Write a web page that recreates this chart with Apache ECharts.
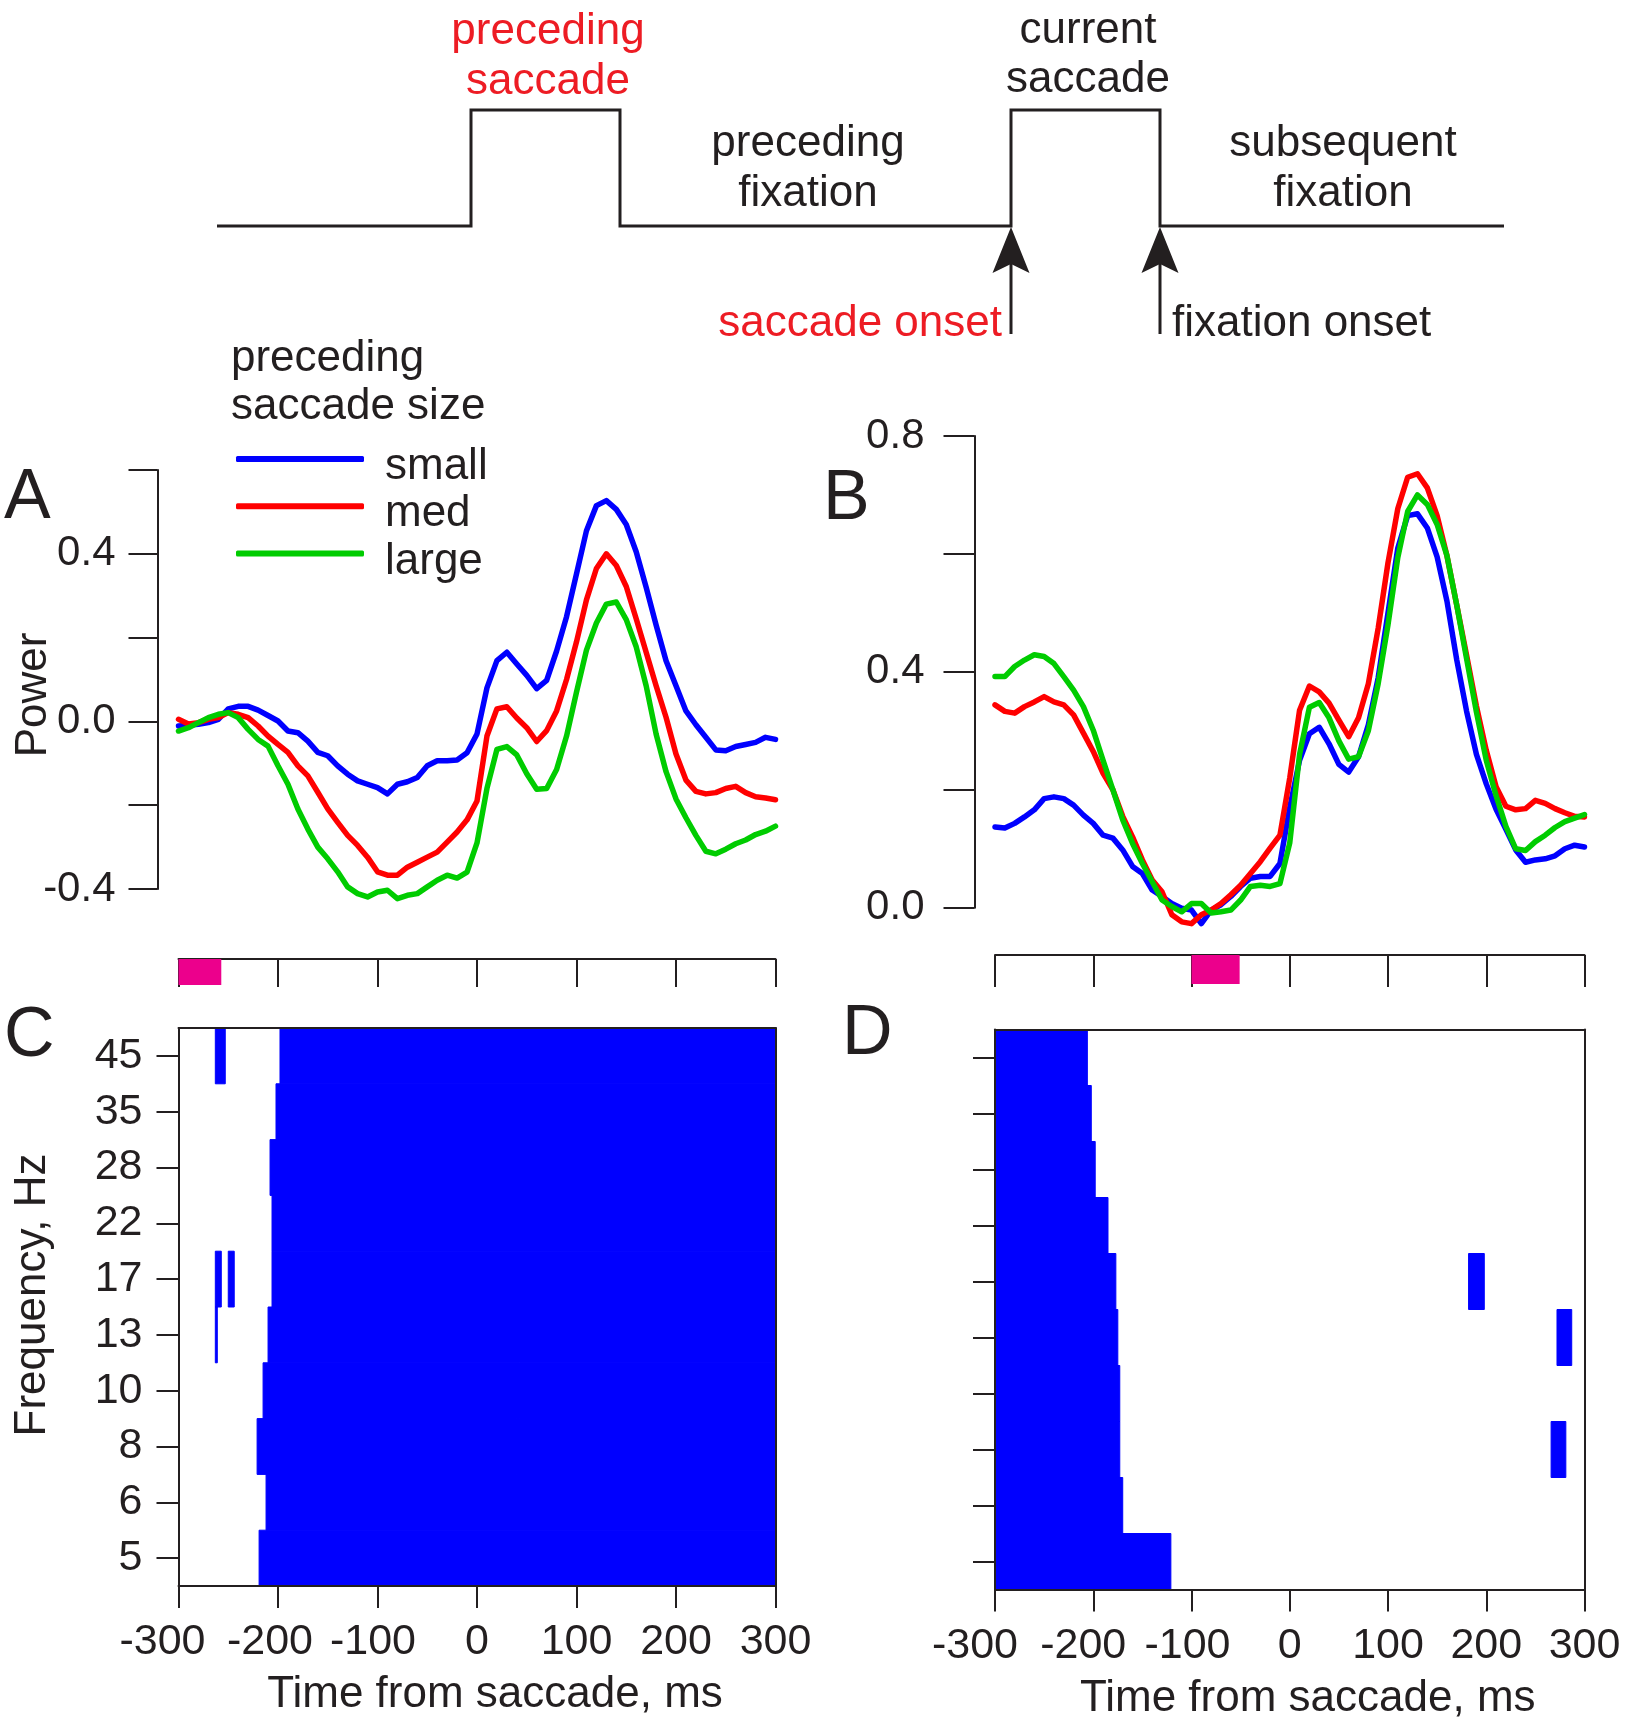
<!DOCTYPE html>
<html>
<head>
<meta charset="utf-8">
<title>Saccade-related power by preceding saccade size</title>
<script src="https://cdn.jsdelivr.net/npm/echarts@6/dist/echarts.min.js"></script>
<style>
  html, body { margin: 0; padding: 0; background: #fff; }
  #chart { width: 1632px; height: 1718px; }
</style>
</head>
<body>
<div id="chart"></div>
<script>
// time from saccade onset, ms (power traces are read every 10 ms)
var times = [-300,-290,-280,-270,-260,-250,-240,-230,-220,-210,
  -200,-190,-180,-170,-160,-150,-140,-130,-120,-110,
  -100,-90,-80,-70,-60,-50,-40,-30,-20,-10,
  0,10,20,30,40,50,60,70,80,90,
  100,110,120,130,140,150,160,170,180,190,
  200,210,220,230,240,250,260,270,280,290,
  300];

// panel A: power, split by preceding saccade size
var smallA = [-0.011,-0.009,-0.007,-0.003,0.005,0.030,0.036,0.036,0.027,0.014,
  0.001,-0.023,-0.027,-0.047,-0.074,-0.082,-0.106,-0.126,-0.142,-0.150,
  -0.158,-0.173,-0.150,-0.144,-0.134,-0.106,-0.094,-0.094,-0.092,-0.075,
  -0.030,0.080,0.145,0.165,0.137,0.110,0.078,0.098,0.168,0.250,
  0.352,0.455,0.515,0.527,0.506,0.470,0.405,0.320,0.230,0.145,
  0.085,0.025,-0.008,-0.038,-0.068,-0.070,-0.060,-0.055,-0.050,-0.038,
  -0.043];
var medA = [0.005,-0.006,-0.003,0.005,0.009,0.021,0.017,0.009,-0.011,-0.035,
  -0.055,-0.074,-0.106,-0.130,-0.169,-0.209,-0.241,-0.272,-0.296,-0.324,
  -0.359,-0.367,-0.367,-0.348,-0.336,-0.324,-0.312,-0.288,-0.264,-0.235,
  -0.190,-0.035,0.030,0.035,0.008,-0.015,-0.048,-0.022,0.025,0.100,
  0.190,0.290,0.365,0.400,0.372,0.322,0.245,0.165,0.085,0.010,
  -0.078,-0.140,-0.167,-0.173,-0.170,-0.160,-0.155,-0.170,-0.180,-0.183,
  -0.187];
var largeA = [-0.023,-0.015,-0.003,0.009,0.017,0.021,0.009,-0.019,-0.043,-0.059,
  -0.106,-0.150,-0.209,-0.257,-0.300,-0.328,-0.359,-0.395,-0.411,-0.419,
  -0.407,-0.403,-0.423,-0.415,-0.411,-0.395,-0.379,-0.367,-0.374,-0.360,
  -0.290,-0.160,-0.067,-0.060,-0.080,-0.125,-0.162,-0.160,-0.115,-0.035,
  0.070,0.170,0.235,0.280,0.285,0.243,0.178,0.085,-0.030,-0.120,
  -0.185,-0.230,-0.272,-0.310,-0.316,-0.305,-0.292,-0.283,-0.270,-0.262,
  -0.250];

// panel B
var smallB = [0.137,0.135,0.143,0.154,0.166,0.185,0.188,0.185,0.174,0.157,
  0.143,0.123,0.118,0.098,0.070,0.058,0.030,0.019,0.007,-0.001,
  -0.004,-0.027,-0.004,0.005,0.019,0.036,0.050,0.053,0.053,0.075,
  0.170,0.250,0.295,0.306,0.278,0.243,0.230,0.256,0.310,0.390,
  0.500,0.610,0.665,0.668,0.644,0.595,0.520,0.420,0.333,0.260,
  0.210,0.167,0.133,0.098,0.077,0.081,0.083,0.088,0.100,0.106,
  0.103];
var medB = [0.344,0.333,0.330,0.341,0.349,0.358,0.349,0.344,0.327,0.296,
  0.265,0.228,0.200,0.155,0.120,0.081,0.047,0.027,-0.012,-0.024,
  -0.027,-0.012,-0.004,0.007,0.022,0.038,0.058,0.078,0.101,0.123,
  0.220,0.335,0.376,0.366,0.347,0.318,0.290,0.322,0.380,0.474,
  0.585,0.677,0.730,0.736,0.712,0.665,0.597,0.513,0.428,0.342,
  0.267,0.205,0.172,0.166,0.168,0.182,0.177,0.168,0.161,0.155,
  0.154];
var largeB = [0.392,0.392,0.409,0.420,0.429,0.426,0.414,0.392,0.369,0.341,
  0.301,0.250,0.200,0.149,0.109,0.075,0.044,0.013,0.002,-0.007,
  0.007,0.007,-0.009,-0.007,-0.004,0.013,0.036,0.038,0.036,0.041,
  0.110,0.260,0.340,0.348,0.322,0.283,0.252,0.256,0.300,0.380,
  0.480,0.594,0.672,0.700,0.684,0.650,0.597,0.513,0.422,0.332,
  0.250,0.190,0.138,0.100,0.097,0.112,0.123,0.136,0.146,0.152,
  0.158];

// frequency bands, bottom to top
var freqBands = ['5','6','8','10','13','17','22','28','35','45'];
// panel C: significant from this time to the end of the window
var sigStartC = [-219,-212,-221,-215,-210,-206,-206,-208,-202,-198];
// extra short significant bits in C: [from, to, band]
var sigExtraC = [[-263,-253,'45'],[-263,-257,'17'],[-250,-244,'17'],[-263,-261,'13']];
// panel D: significant from the window start to this time
var sigEndD = [-121,-170,-173,-173,-175,-177,-185,-198,-202,-206];
var sigExtraD = [[182,198,'17'],[272,287,'13'],[266,281,'8']];

// comparison windows marked on the small time strips
var windowC = [-300,-257];
var windowD = [-100,-51];

// schematic of the eye trace (arbitrary time units)
var traceX = [0,254,254,403,403,794,794,943,943,1287];
var traceY = [0,0,1,1,0,0,1,1,0,0];
var arrowAt = [794,943];

var ink = '#231f20';
var redInk = '#ed1c24';
var font = '"Liberation Sans", Arial, Helvetica, sans-serif';
var lineColors = { small: '#0000ff', med: '#ff0000', large: '#00cc00' };

var chart = echarts.init(document.getElementById('chart'));

function trace(name, vals, axis) {
  return {
    name: name, type: 'line', xAxisIndex: axis, yAxisIndex: axis,
    data: times.map(function (t, i) { return [t, vals[i]]; }),
    symbol: 'none', clip: false, silent: true,
    itemStyle: { color: lineColors[name] },
    lineStyle: { color: lineColors[name], width: 5.5, cap: 'round', join: 'round' }
  };
}

function spanItem(params, api) {
  var row = api.value(2);
  var a = api.coord([api.value(0), row]);
  var b = api.coord([api.value(1), row]);
  var h = api.size([0, 1])[1];
  return { type: 'rect', shape: { x: a[0], y: a[1] - h / 2, width: b[0] - a[0], height: h },
    style: { fill: '#0000ff', stroke: '#0000ff', lineWidth: 1 } };
}

function windowItem(h) {
  return function (params, api) {
    var a = api.coord([api.value(0), 1]);
    var b = api.coord([api.value(1), 1]);
    return { type: 'rect', shape: { x: a[0], y: a[1], width: b[0] - a[0], height: h },
      style: { fill: '#ec008c' } };
  };
}

function arrowItem(params, api) {
  var p = api.coord([api.value(0), 0]);
  return { type: 'group', children: [
    { type: 'line', shape: { x1: p[0], y1: p[1] + 30, x2: p[0], y2: p[1] + 108 },
      style: { stroke: ink, lineWidth: 3 } },
    { type: 'polygon', shape: { points: [[p[0], p[1] + 1], [p[0] - 18.5, p[1] + 47], [p[0], p[1] + 38], [p[0] + 18.5, p[1] + 47]] },
      style: { fill: ink } }
  ] };
}

var noSplit = { show: false };
var axLine = { show: true, onZero: false, lineStyle: { color: ink, width: 2 } };

function timeAxis(grid, opts) {
  var base = { gridIndex: grid, type: 'value', min: -300, max: 300, interval: 100,
    splitLine: noSplit, axisLine: { show: false, onZero: false }, axisTick: { show: false },
    axisLabel: { show: false } };
  return Object.assign(base, opts || {});
}

function bottomTimeAxis(grid, shifts) {
  var rich = {
    m3: { fontSize: 43, fontFamily: font, color: ink, padding: [0, shifts[0], 0, 0] },
    m2: { fontSize: 43, fontFamily: font, color: ink, padding: [0, shifts[1], 0, 0] },
    m1: { fontSize: 43, fontFamily: font, color: ink, padding: [0, shifts[2], 0, 0] }
  };
  return timeAxis(grid, {
    position: 'bottom', z: 5,
    axisLine: axLine,
    axisTick: { show: true, length: 22, lineStyle: { color: ink, width: 2 } },
    axisLabel: { show: true, fontSize: 43, fontFamily: font, color: ink, margin: 35, rich: rich,
      formatter: function (v) {
        if (v === -300) return '{m3|-300}';
        if (v === -200) return '{m2|-200}';
        if (v === -100) return '{m1|-100}';
        return String(v);
      } },
    name: 'Time from saccade, ms', nameLocation: 'middle', nameGap: 87,
    nameTextStyle: { fontSize: 44, fontFamily: font, color: ink, padding: [0, 0, 0, 36] }
  });
}

function freqAxis(grid, withLabels, right) {
  return {
    gridIndex: grid, type: 'category', data: freqBands, position: right ? 'right' : 'left',
    z: 5, boundaryGap: true,
    axisLine: axLine,
    axisTick: { show: !right, interval: 0, alignWithLabel: true, length: 22,
      lineStyle: { color: ink, width: 2 } },
    axisLabel: { show: withLabels && !right, interval: 0, hideOverlap: false,
      fontSize: 43, fontFamily: font, color: ink, margin: 36 },
    splitLine: noSplit
  };
}

function powerLabel(v) {
  return Math.round(v * 10) % 4 === 0 ? v.toFixed(1) : '';
}

function txt(text, x, y, align, color, size, rot) {
  return {
    type: 'text', x: x, y: y, rotation: rot || 0, silent: true,
    style: { text: text, fill: color || ink, fontSize: size || 44, fontFamily: font,
      align: align, textAlign: align, verticalAlign: 'middle', textVerticalAlign: 'middle' }
  };
}

var option = {
  animation: false,
  backgroundColor: '#ffffff',
  grid: [
    { left: 217, top: 110, width: 1287, height: 116, outerBoundsMode: 'none' },
    { left: 178.5, top: 470, width: 597, height: 419, outerBoundsMode: 'none' },
    { left: 995, top: 436, width: 589.5, height: 471.7, outerBoundsMode: 'none' },
    { left: 178.5, top: 959, width: 597, height: 28, outerBoundsMode: 'none' },
    { left: 995, top: 955, width: 589.5, height: 32, outerBoundsMode: 'none' },
    { left: 178.5, top: 1028, width: 597, height: 558, outerBoundsMode: 'none' },
    { left: 995, top: 1029.5, width: 589.5, height: 560, outerBoundsMode: 'none' }
  ],
  xAxis: [
    { gridIndex: 0, type: 'value', min: 0, max: 1287, show: false },
    timeAxis(1, { show: false }),
    timeAxis(2, { show: false }),
    timeAxis(3, { position: 'top', axisLine: axLine,
      axisTick: { show: true, inside: true, length: 28, lineStyle: { color: ink, width: 2 } } }),
    timeAxis(4, { position: 'top', axisLine: axLine,
      axisTick: { show: true, inside: true, length: 32, lineStyle: { color: ink, width: 2 } } }),
    bottomTimeAxis(5, [32, 16, 9]),
    timeAxis(5, { position: 'top', z: 5, axisLine: axLine }),
    bottomTimeAxis(6, [40, 20, 8]),
    timeAxis(6, { position: 'top', z: 5, axisLine: axLine })
  ],
  yAxis: [
    { gridIndex: 0, type: 'value', min: 0, max: 1, show: false },
    { gridIndex: 1, type: 'value', min: -0.4, max: 0.6, interval: 0.2, offset: 21,
      axisLine: axLine, splitLine: noSplit,
      axisTick: { show: true, length: 29, lineStyle: { color: ink, width: 2 } },
      axisLabel: { fontSize: 42, fontFamily: font, color: ink, margin: 42, formatter: powerLabel } },
    { gridIndex: 2, type: 'value', min: 0, max: 0.8, interval: 0.2, offset: 20.5,
      axisLine: axLine, splitLine: noSplit,
      axisTick: { show: true, length: 31, lineStyle: { color: ink, width: 2 } },
      axisLabel: { fontSize: 42, fontFamily: font, color: ink, margin: 50, padding: [6, 0, 0, 0],
        formatter: powerLabel } },
    { gridIndex: 3, type: 'value', min: 0, max: 1, show: false },
    { gridIndex: 4, type: 'value', min: 0, max: 1, show: false },
    freqAxis(5, true, false),
    freqAxis(5, false, true),
    freqAxis(6, false, false),
    freqAxis(6, false, true)
  ],
  legend: {
    orient: 'vertical', left: 236, top: 432, padding: 0,
    itemWidth: 128, itemHeight: 6, itemGap: -9.7, icon: 'roundRect',
    selectedMode: false,
    data: ['small', 'med', 'large'],
    formatter: function (name) { return '{s| }\n{t|' + name + '}'; },
    textStyle: {
      fontSize: 44, fontFamily: font, color: ink, padding: [0, 0, 0, 16],
      rich: {
        s: { fontSize: 10, lineHeight: 16 },
        t: { fontSize: 44, fontFamily: font, color: ink, lineHeight: 44 }
      }
    }
  },
  series: [
    { type: 'line', xAxisIndex: 0, yAxisIndex: 0, silent: true, symbol: 'none', clip: false,
      data: traceX.map(function (x, i) { return [x, traceY[i]]; }),
      lineStyle: { color: ink, width: 3, join: 'miter' } },
    { type: 'custom', xAxisIndex: 0, yAxisIndex: 0, clip: false, silent: true,
      renderItem: arrowItem, data: arrowAt.map(function (x) { return [x]; }) },

    trace('small', smallA, 1), trace('med', medA, 1), trace('large', largeA, 1),
    trace('small', smallB, 2), trace('med', medB, 2), trace('large', largeB, 2),

    { type: 'custom', xAxisIndex: 3, yAxisIndex: 3, silent: true,
      renderItem: windowItem(26), data: [windowC] },
    { type: 'custom', xAxisIndex: 4, yAxisIndex: 4, silent: true,
      renderItem: windowItem(29), data: [windowD] },

    { type: 'custom', xAxisIndex: 5, yAxisIndex: 5, silent: true, encode: { x: [0, 1], y: 2 },
      renderItem: spanItem,
      data: sigStartC.map(function (s, i) { return [s, 300, i]; })
        .concat(sigExtraC.map(function (e) { return [e[0], e[1], freqBands.indexOf(e[2])]; })) },
    { type: 'custom', xAxisIndex: 7, yAxisIndex: 7, silent: true, encode: { x: [0, 1], y: 2 },
      renderItem: spanItem,
      data: sigEndD.map(function (e, i) { return [-300, e, i]; })
        .concat(sigExtraD.map(function (e) { return [e[0], e[1], freqBands.indexOf(e[2])]; })) }
  ],
  graphic: [
    txt('preceding', 548, 32, 'center', redInk),
    txt('saccade', 548, 82, 'center', redInk),
    txt('current', 1088, 31, 'center'),
    txt('saccade', 1088, 80, 'center'),
    txt('preceding', 808, 144, 'center'),
    txt('fixation', 808, 194, 'center'),
    txt('subsequent', 1343, 144, 'center'),
    txt('fixation', 1343, 194, 'center'),
    txt('saccade onset', 1002, 324, 'right', redInk),
    txt('fixation onset', 1172, 324, 'left'),
    txt('preceding', 231, 359, 'left'),
    txt('saccade size', 231, 407, 'left'),
    txt('Power', 34, 695, 'center', ink, 44, Math.PI / 2),
    txt('Frequency, Hz', 33, 1295, 'center', ink, 44, Math.PI / 2),
    txt('A', 4, 499, 'left', ink, 70),
    txt('B', 823, 500, 'left', ink, 70),
    txt('C', 4, 1037, 'left', ink, 70),
    txt('D', 842, 1035, 'left', ink, 70)
  ]
};

chart.setOption(option);
</script>
</body>
</html>
